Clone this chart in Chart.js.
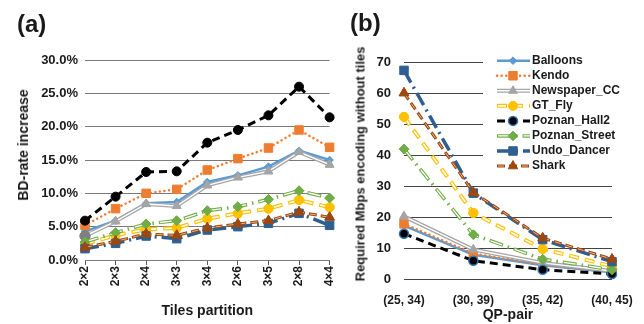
<!DOCTYPE html>
<html>
<head>
<meta charset="utf-8">
<script src="https://cdn.jsdelivr.net/npm/chart.js@4.4.1/dist/chart.umd.min.js"></script>
<style>
  body { margin: 0; background: #fff; width: 644px; height: 324px; position: relative; overflow: hidden;
         font-family: 'Liberation Sans', Arial, sans-serif; font-weight: bold; color: #1a1a1a; }
  canvas { position: absolute; top: 0; }
  #ca { left: 0; }
  #cb { left: 340px; }
  .lbl { position: absolute; line-height: 1; white-space: nowrap; }
  .panel { font-size: 24px; }
  .ytitle { transform: translate(-50%, -50%) rotate(-90deg); }
</style>
</head>
<body>
<canvas id="ca" width="345" height="324"></canvas>
<canvas id="cb" width="304" height="324"></canvas>
<div class="lbl panel" style="left:17px;top:12px">(a)</div>
<div class="lbl panel" style="left:350px;top:11px">(b)</div>
<div class="lbl ytitle" style="left:23px;top:145px;font-size:14px">BD-rate increase</div>
<div class="lbl ytitle" style="left:360px;top:164px;font-size:13px">Required Mbps encoding without tiles</div>
<script>
// categories
const partitions = ['2×2', '2×3', '2×4', '3×3', '3×4', '2×6', '3×5', '2×8', '4×4']
const qpPairs = ['(25, 34)', '(30, 39)', '(35, 42)', '(40, 45)']
const sequences = ['Balloons', 'Kendo', 'Newspaper_CC', 'GT_Fly', 'Poznan_Hall2', 'Poznan_Street', 'Undo_Dancer', 'Shark']

// (a) BD-rate increase, %
const bdBalloons = [4.3, 5.9, 8.5, 8.7, 11.7, 12.7, 14.0, 16.4, 15.0]
const bdKendo = [5.2, 7.7, 10.0, 10.6, 13.5, 15.2, 16.8, 19.5, 16.9]
const bdNewspaper = [3.6, 5.8, 8.4, 8.1, 11.2, 12.4, 13.3, 16.2, 14.3]
const bdGtFly = [2.4, 3.7, 4.6, 4.8, 6.2, 7.0, 7.7, 9.0, 7.9]
const bdHall2 = [5.9, 9.5, 13.2, 13.3, 17.6, 19.5, 21.7, 26.0, 21.4]
const bdStreet = [2.7, 4.1, 5.4, 5.9, 7.4, 8.0, 9.1, 10.4, 9.3]
const bdDancer = [1.7, 2.5, 3.6, 3.2, 4.5, 5.0, 5.5, 7.0, 5.2]
const bdShark = [1.9, 2.8, 3.9, 3.7, 4.8, 5.4, 5.9, 7.2, 6.4]

// (b) required Mbps without tiles
const mbBalloons = [17.2, 7.8, 4.4, 2.2]
const mbKendo = [17.8, 8.2, 4.6, 2.3]
const mbNewspaper = [20.2, 9.5, 5.2, 2.6]
const mbGtFly = [52.3, 21.3, 9.7, 4.1]
const mbHall2 = [14.6, 5.9, 3.0, 1.6]
const mbStreet = [41.9, 14.3, 6.4, 3.0]
const mbDancer = [67.3, 27.7, 12.7, 5.6]
const mbShark = [60.0, 27.9, 13.2, 6.4]

// axis ticks
const bdTicks = [0, 5, 10, 15, 20, 25, 30]
const mbTicks = [0, 10, 20, 30, 40, 50, 60, 70]

const FONT = "'Liberation Sans', Arial, sans-serif"
Chart.defaults.font.family = FONT
Chart.defaults.font.weight = 'bold'
Chart.defaults.color = '#1a1a1a'

// line looks, one per sequence
const looks = [
	{ color: '#5B9BD5', width: 2.5, dash: [], point: 'rectRot', radius: 3.8 },
	{ color: '#ED7D31', width: 2.5, dash: [0.1, 4.5], cap: 'round', point: 'rect', radius: 6 },
	{ color: '#A5A5A5', width: 4, dash: [], inner: '#fff', innerWidth: 1.4, point: 'triangle', radius: 5 },
	{ color: '#FFC000', width: 4, dash: [10, 6], inner: '#fff', innerWidth: 1.6, point: 'circle', radius: 4.5 },
	{ color: '#000000', width: 3, dash: [8, 5], point: 'circle', radius: 4.5 },
	{ color: '#70AD47', width: 3.5, dash: [14, 5, 1.5, 5], inner: '#fff', innerWidth: 1.3, point: 'rectRot', radius: 4.8 },
	{ color: '#2E5F90', width: 3.5, dash: [14, 5, 2, 5], point: 'rect', radius: 6 },
	{ color: '#9E480E', width: 3, dash: [8, 4], inner: '#E2B48E', innerWidth: 1, point: 'triangle', radius: 5.5 }
]

const innerDashOf = (dash) => {
	if (!dash.length) return []
	const total = dash.reduce((a, b) => a + b, 0)
	return [dash[0] - 2, total - dash[0] + 2]
}

const makeSets = (values) =>
	sequences.map((name, i) => {
		const s = looks[i]
		return {
			label: name,
			data: values[i],
			order: -i,
			borderColor: s.color,
			borderWidth: s.width,
			borderDash: s.dash,
			borderCapStyle: s.cap || 'butt',
			innerColor: s.inner,
			innerWidth: s.innerWidth,
			innerDash: innerDashOf(s.dash),
			pointStyle: s.point,
			pointRadius: s.radius,
			pointBackgroundColor: s.color,
			pointBorderColor: s.color,
			pointBorderWidth: 1,
			tension: 0,
			fill: false,
			clip: false
		}
	})

// hollow / two-tone lines: stroke the inner core over the line, then the markers again
const innerLines = {
	id: 'innerLines',
	afterDatasetDraw(chart, args) {
		const ds = chart.data.datasets[args.index]
		if (!ds.innerColor) return
		const ctx = chart.ctx
		const pts = args.meta.data
		ctx.save()
		ctx.beginPath()
		pts.forEach((p, i) => (i ? ctx.lineTo(p.x, p.y) : ctx.moveTo(p.x, p.y)))
		ctx.strokeStyle = ds.innerColor
		ctx.lineWidth = ds.innerWidth
		ctx.setLineDash(ds.innerDash)
		ctx.lineDashOffset = ds.innerDash.length ? -1 : 0
		ctx.stroke()
		ctx.restore()
		pts.forEach((p) => p.draw(ctx, chart.chartArea))
	}
}

// Excel-like legend sitting inside the plot of (b)
const boxLegend = {
	id: 'boxLegend',
	afterDraw(chart) {
		const ctx = chart.ctx
		ctx.save()
		ctx.fillStyle = '#fff'
		ctx.fillRect(143, 48, 161, 127)
		chart.data.datasets.forEach((ds, i) => {
			const y = 60.7 + i * 15.05
			ctx.beginPath()
			ctx.moveTo(157, y)
			ctx.lineTo(190, y)
			ctx.strokeStyle = ds.borderColor
			ctx.lineWidth = ds.borderWidth
			ctx.lineCap = ds.borderCapStyle
			ctx.setLineDash(ds.borderDash)
			ctx.stroke()
			if (ds.innerColor) {
				ctx.strokeStyle = ds.innerColor
				ctx.lineWidth = ds.innerWidth
				ctx.setLineDash(ds.innerDash)
				ctx.lineDashOffset = ds.innerDash.length ? -1 : 0
				ctx.stroke()
				ctx.lineDashOffset = 0
			}
			ctx.setLineDash([])
			ctx.lineCap = 'butt'
			ctx.fillStyle = ds.pointBackgroundColor
			ctx.strokeStyle = ds.pointBorderColor
			ctx.lineWidth = ds.pointBorderWidth
			Chart.helpers.drawPoint(ctx, { pointStyle: ds.pointStyle, radius: ds.pointRadius, rotation: 0, borderWidth: ds.pointBorderWidth }, 173, y)
			ctx.fillStyle = '#1a1a1a'
			ctx.font = `bold 12px ${FONT}`
			ctx.textBaseline = 'middle'
			ctx.textAlign = 'left'
			ctx.fillText(ds.label, 192, y)
		})
		ctx.restore()
	}
}

// (a)
const setsA = makeSets([bdBalloons, bdKendo, bdNewspaper, bdGtFly, bdHall2, bdStreet, bdDancer, bdShark])
setsA[2].pointStyle = partitions.map((_, j) => (j === 0 ? 'circle' : 'triangle'))
setsA[2].pointBackgroundColor = partitions.map((_, j) => (j === 0 ? '#7F7F7F' : '#A5A5A5'))
setsA[2].pointBorderColor = setsA[2].pointBackgroundColor

new Chart(document.getElementById('ca'), {
	type: 'line',
	data: { labels: partitions, datasets: setsA },
	plugins: [innerLines],
	options: {
		responsive: false,
		animation: false,
		devicePixelRatio: 1,
		layout: { padding: { top: 60, right: 9, left: 0, bottom: 0 } },
		plugins: { legend: { display: false }, tooltip: { enabled: false } },
		scales: {
			x: {
				afterFit: (s) => { s.height = 64 },
				offset: false,
				grid: { display: true, drawOnChartArea: false, drawTicks: true, tickLength: 5, tickColor: '#595959' },
				border: { display: false },
				ticks: { autoSkip: false, minRotation: 90, maxRotation: 90, padding: 1, font: { size: 12 } },
				title: { display: true, text: 'Tiles partition', font: { size: 14 }, padding: { top: 0, bottom: 4 } }
			},
			y: {
				afterFit: (s) => { s.width = 85 },
				min: 0,
				max: 30,
				afterBuildTicks: (s) => { s.ticks = bdTicks.map((v) => ({ value: v })) },
				grid: { color: '#7a7a7a', drawTicks: false },
				border: { display: false },
				ticks: { padding: 7, font: { size: 13 }, callback: (v) => v.toFixed(1) + '%' }
			}
		}
	}
})

// (b)
const setsB = makeSets([mbBalloons, mbKendo, mbNewspaper, mbGtFly, mbHall2, mbStreet, mbDancer, mbShark])
setsB[4].pointBorderColor = '#2E75B6'
setsB[4].pointBorderWidth = 1.5

new Chart(document.getElementById('cb'), {
	type: 'line',
	data: { labels: qpPairs, datasets: setsB },
	plugins: [innerLines, boxLegend],
	options: {
		responsive: false,
		animation: false,
		devicePixelRatio: 1,
		layout: { padding: { top: 62, right: 32, left: 0, bottom: 0 } },
		plugins: { legend: { display: false }, tooltip: { enabled: false } },
		scales: {
			x: {
				afterFit: (s) => { s.height = 45 },
				offset: false,
				grid: { display: false },
				border: { display: false },
				ticks: { autoSkip: false, maxRotation: 0, padding: 6, font: { size: 12 } },
				title: { display: true, text: 'QP-pair', font: { size: 14 }, padding: { top: 0, bottom: 0 } }
			},
			y: {
				afterFit: (s) => { s.width = 64 },
				min: 0,
				max: 70,
				afterBuildTicks: (s) => { s.ticks = mbTicks.map((v) => ({ value: v })) },
				grid: { color: '#444', drawTicks: false },
				border: { display: false },
				ticks: { padding: 13, font: { size: 13 } }
			}
		}
	}
})
</script>
</body>
</html>
